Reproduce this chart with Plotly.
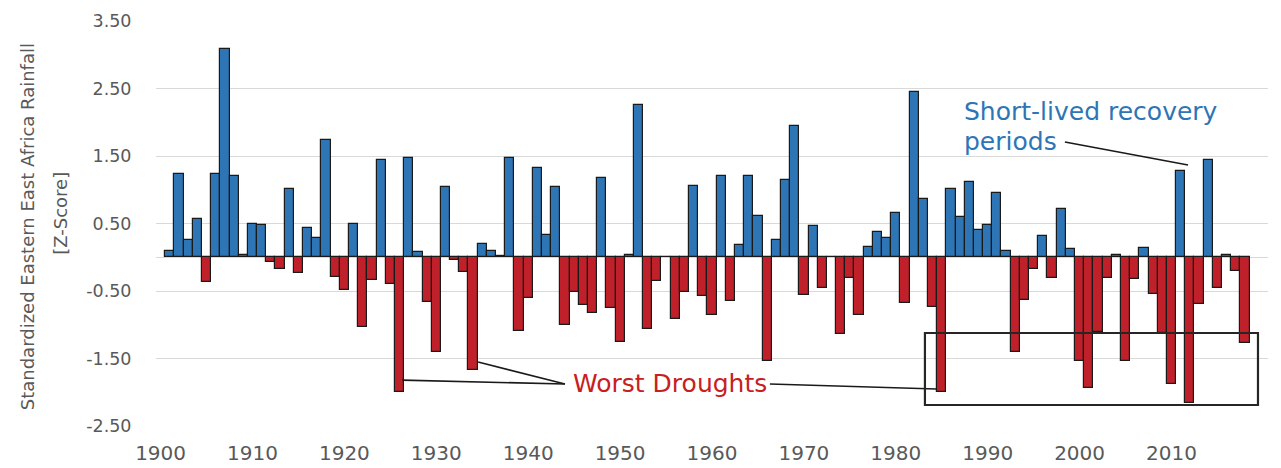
import plotly.graph_objects as go

years = list(range(1901, 2019))
zscores = [
    0.10, 1.23, 0.25, 0.56, -0.37, 1.24, 3.09, 1.21, 0.03, 0.50,   # 1901-1910
    0.48, -0.07, -0.18, 1.01, -0.24, 0.44, 0.28, 1.74, -0.29, -0.49,  # 1911-1920
    0.50, -1.04, -0.34, 1.44, -0.39, -1.99, 1.47, 0.08, -0.66, -1.40,  # 1921-1930
    1.04, -0.04, -0.22, -1.67, 0.20, 0.10, 0.02, 1.47, -1.09, -0.60,  # 1931-1940
    1.32, 0.33, 1.04, -1.00, -0.51, -0.71, -0.83, 1.18, -0.75, -1.25,  # 1941-1950
    0.03, 2.25, -1.07, -0.35, 0.01, -0.92, -0.52, 1.06, -0.57, -0.85,  # 1951-1960
    1.20, -0.65, 0.18, 1.21, 0.61, -1.54, 0.25, 1.14, 1.94, -0.56,  # 1961-1970
    0.47, -0.45, 0.01, -1.13, -0.31, -0.85, 0.15, 0.38, 0.28, 0.65,  # 1971-1980
    -0.68, 2.45, 0.87, -0.73, -2.00, 1.01, 0.60, 1.11, 0.41, 0.48,  # 1981-1990
    0.95, 0.10, -1.40, -0.63, -0.17, 0.31, -0.30, 0.72, 0.12, -1.54,  # 1991-2000
    -1.94, -1.10, -0.30, 0.03, -1.53, -0.32, 0.13, -0.55, -1.12, -1.88,  # 2001-2010
    1.28, -2.16, -0.69, 1.44, -0.46, 0.03, -0.21, -1.27,  # 2011-2018
]
x_ticks = list(range(1900, 2011, 10))
y_ticks = [-2.5, -1.5, -0.5, 0.5, 1.5, 2.5, 3.5]
y_tick_text = ["-2.50", "-1.50", "-0.50", "0.50", "1.50", "2.50", "3.50"]

BLUE = "#2E75B6"
RED = "#C0202A"
GRAY = "#595959"
FONT = "DejaVu Sans"

colors = [BLUE if v >= 0 else RED for v in zscores]

fig = go.Figure()
fig.add_trace(go.Bar(
    x=years, y=zscores,
    marker=dict(color=colors, line=dict(color="#1a1a1a", width=1.2)),
    width=1.0,
    showlegend=False,
))

line_style = dict(color="#1a1a1a", width=1.6)
shapes = [
    # Worst droughts pointers
    dict(type="line", xref="x", yref="y", x0=1944.0, y0=-1.878, x1=1926.3, y1=-1.82, line=line_style),
    dict(type="line", xref="x", yref="y", x0=1944.0, y0=-1.878, x1=1934.55, y1=-1.552, line=line_style),
    dict(type="line", xref="x", yref="y", x0=1966.3, y0=-1.878, x1=1984.4, y1=-1.952, line=line_style),
    # recovery pointer
    dict(type="line", xref="x", yref="y", x0=1998.4, y0=1.707, x1=2011.8, y1=1.367, line=line_style),
    # box around recent droughts
    dict(type="rect", xref="x", yref="y", x0=1983.17, y0=-2.189, x1=2019.41, y1=-1.122,
         line=dict(color="#262626", width=2.2), layer="above"),
]

annotations = [
    dict(text="Standardized Eastern East Africa Rainfall", xref="paper", yref="paper",
         x=(27.5 - 156) / 1112, y=0.492, textangle=-90, showarrow=False,
         xanchor="center", yanchor="middle",
         font=dict(family=FONT, size=18, color=GRAY)),
    dict(text="[Z-Score]", xref="paper", yref="paper",
         x=(61 - 156) / 1112, y=0.524, textangle=-90, showarrow=False,
         xanchor="center", yanchor="middle",
         font=dict(family=FONT, size=18, color=GRAY)),
    dict(text="Short-lived recovery", xref="x", yref="y",
         x=1987.2, y=2.156, xanchor="left", yanchor="middle", align="left",
         showarrow=False, font=dict(family=FONT, size=25, color=BLUE)),
    dict(text="periods", xref="x", yref="y",
         x=1987.2, y=1.712, xanchor="left", yanchor="middle", align="left",
         showarrow=False, font=dict(family=FONT, size=25, color=BLUE)),
    dict(text="Worst Droughts", xref="x", yref="y",
         x=1955.47, y=-1.863, xanchor="center", yanchor="middle",
         showarrow=False, font=dict(family=FONT, size=25, color="#C8201E")),
]

# The page body adds an 8px offset, so the figure is sized to fit the 1281x468 window.
fig.update_layout(
    width=1273, height=460,
    margin=dict(l=148, r=13, t=13, b=42, autoexpand=False),
    paper_bgcolor="white", plot_bgcolor="white",
    bargap=0,
    shapes=shapes,
    annotations=annotations,
    xaxis=dict(
        range=[1899.5, 2020.5], tickvals=x_ticks, ticktext=[str(t) for t in x_ticks],
        showgrid=False, zeroline=False, showline=False, automargin=False,
        ticks="outside", ticklen=9, tickcolor="rgba(0,0,0,0)",
        tickfont=dict(family=FONT, size=20, color=GRAY),
    ),
    yaxis=dict(
        range=[-2.5, 3.5], tickvals=y_ticks, ticktext=y_tick_text,
        showgrid=True, gridcolor="#D9D9D9", gridwidth=1,
        zeroline=True, zerolinecolor="#D9D9D9", zerolinewidth=1,
        showline=False, automargin=False,
        ticks="outside", ticklen=20, tickcolor="rgba(0,0,0,0)",
        tickfont=dict(family=FONT, size=17.5, color=GRAY),
    ),
)

fig.write_html("out.html")
